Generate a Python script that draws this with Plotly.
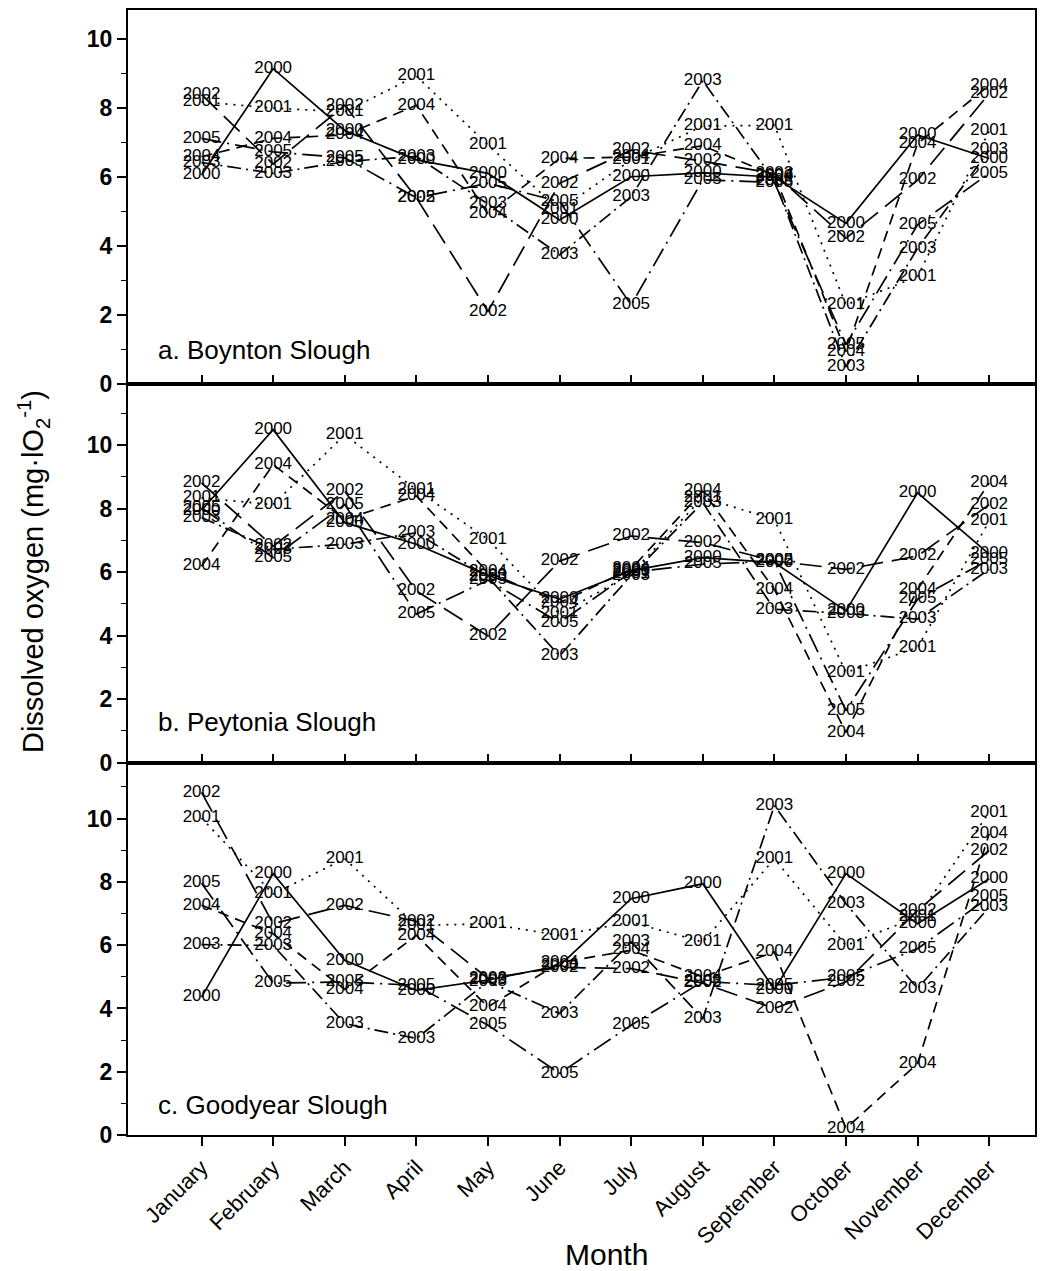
import plotly.graph_objects as go

# Month categories shared by all three panels
MONTHS = ["January", "February", "March", "April", "May", "June",
          "July", "August", "September", "October", "November", "December"]
YEARS = ["2000", "2001", "2002", "2003", "2004", "2005"]

# a. Boynton Slough – monthly dissolved oxygen (mg/l)
boynton_2000 = [6.06, 9.14, 7.35, 6.50, 6.11, 4.76, 6.01, 6.12, 6.00, 4.66, 7.22, 6.54]
boynton_2001 = [8.18, 8.00, 7.89, 8.93, 6.93, 5.05, 6.50, 7.48, 7.50, 2.30, 3.12, 7.33]
boynton_2002 = [8.39, 6.38, 8.08, 5.40, 2.11, 5.82, 6.78, 6.46, 6.10, 4.23, 5.91, 8.42]
boynton_2003 = [6.42, 6.11, 6.45, 6.60, 5.22, 3.75, 5.43, 8.79, 5.90, 0.50, 3.94, 6.78]
boynton_2004 = [6.59, 7.12, 7.22, 8.08, 4.93, 6.54, 6.58, 6.91, 6.05, 0.95, 6.97, 8.66]
boynton_2005 = [7.12, 6.73, 6.56, 5.40, 5.82, 5.29, 2.30, 5.92, 5.85, 1.15, 4.62, 6.11]

# b. Peytonia Slough
peytonia_2000 = [7.95, 10.49, 7.56, 6.88, 5.90, 5.15, 6.05, 6.46, 6.30, 4.78, 8.50, 6.57]
peytonia_2001 = [8.34, 8.13, 10.33, 8.60, 7.03, 4.68, 5.95, 8.35, 7.66, 2.84, 3.63, 7.61]
peytonia_2002 = [8.81, 6.82, 8.55, 5.41, 3.99, 6.35, 7.14, 6.93, 6.35, 6.09, 6.51, 8.13]
peytonia_2003 = [7.72, 6.72, 6.88, 7.24, 5.85, 3.36, 5.90, 8.19, 4.83, 4.70, 4.52, 6.09]
peytonia_2004 = [6.19, 9.39, 7.66, 8.40, 6.00, 5.04, 6.10, 8.55, 5.46, 0.95, 5.46, 8.81]
peytonia_2005 = [8.03, 6.46, 8.13, 4.68, 5.75, 4.41, 6.00, 6.25, 6.35, 1.64, 5.15, 6.40]

# c. Goodyear Slough
goodyear_2000 = [4.36, 8.26, 5.52, 4.57, 4.90, 5.35, 7.47, 7.94, 4.60, 8.26, 6.68, 8.10]
goodyear_2001 = [10.02, 7.62, 8.73, 6.62, 6.68, 6.31, 6.73, 6.10, 8.73, 5.99, 6.90, 10.20]
goodyear_2002 = [10.83, 6.68, 7.26, 6.75, 4.95, 5.30, 5.26, 4.80, 4.00, 4.84, 7.10, 8.99]
goodyear_2003 = [6.02, 5.99, 3.52, 3.05, 4.85, 3.84, 6.10, 3.68, 10.41, 7.31, 4.63, 7.20]
goodyear_2004 = [7.26, 6.36, 4.60, 6.31, 4.05, 5.45, 5.84, 5.00, 5.78, 0.21, 2.26, 9.52]
goodyear_2005 = [7.96, 4.80, 4.84, 4.73, 3.47, 1.95, 3.47, 4.85, 4.73, 4.99, 5.89, 7.52]

SITES = [
    ("a. Boynton Slough", [boynton_2000, boynton_2001, boynton_2002,
                           boynton_2003, boynton_2004, boynton_2005]),
    ("b. Peytonia Slough", [peytonia_2000, peytonia_2001, peytonia_2002,
                            peytonia_2003, peytonia_2004, peytonia_2005]),
    ("c. Goodyear Slough", [goodyear_2000, goodyear_2001, goodyear_2002,
                            goodyear_2003, goodyear_2004, goodyear_2005]),
]

# one line pattern per year
DASHES = {
    "2000": "solid",
    "2001": "2px,6px",
    "2002": "22px,9px",
    "2003": "14px,5px,2px,5px",
    "2004": "11px,7px",
    "2005": "20px,6px,2px,6px",
}

FONT = "Liberation Sans, Arial, Helvetica, sans-serif"
x_idx = list(range(len(MONTHS)))

fig = go.Figure()

# panel placement (paper fractions, bottom panel first in y)
domains = [(0.6673, 1.0), (0.331, 0.6673), (0.0, 0.331)]
y_tops = [10.84, 11.92, 11.77]

for i, (site, series) in enumerate(SITES):
    xa = "x" if i == 0 else f"x{i + 1}"
    ya = "y" if i == 0 else f"y{i + 1}"
    for year, vals in zip(YEARS, series):
        fig.add_trace(go.Scatter(
            x=x_idx, y=vals, xaxis=xa, yaxis=ya,
            mode="lines+text",
            text=[year] * len(vals),
            textposition="middle center",
            textfont=dict(family=FONT, size=17, color="black"),
            line=dict(color="black", width=1.7, dash=DASHES[year]),
            showlegend=False, hoverinfo="skip",
        ))
    fig.add_annotation(
        x=-0.64, y=[1.0, 1.29, 0.95][i], xref=xa, yref=ya,
        text=site, showarrow=False, xanchor="left", yanchor="middle",
        font=dict(family=FONT, size=26, color="black"),
    )

axis_common = dict(showline=True, linecolor="black", linewidth=2, mirror=True,
                   showgrid=False, zeroline=False)

layout = dict(
    width=1053, height=1271,
    margin=dict(l=128, r=18, t=8, b=136),
    plot_bgcolor="white", paper_bgcolor="white",
    font=dict(family=FONT, color="black"),
)

for i in range(3):
    xkey = "xaxis" if i == 0 else f"xaxis{i + 1}"
    ykey = "yaxis" if i == 0 else f"yaxis{i + 1}"
    yname = "y" if i == 0 else f"y{i + 1}"
    xname = "x" if i == 0 else f"x{i + 1}"
    last = i == 2
    layout[xkey] = dict(
        axis_common, anchor=yname, domain=[0, 1], range=[-1.027, 11.64],
        tickmode="array", tickvals=x_idx, ticktext=MONTHS,
        showticklabels=last, ticks="outside" if last else "inside",
        ticklen=9, tickwidth=1.5, tickcolor="black", tickangle=-45,
        tickfont=dict(family=FONT, size=22, color="black"),
    )
    layout[ykey] = dict(
        axis_common, anchor=xname, domain=list(domains[i]),
        range=[0, y_tops[i]], tickmode="array", tickvals=[0, 2, 4, 6, 8, 10],
        ticks="outside", ticklen=9, tickwidth=1.5, tickcolor="black",
        minor=dict(tickmode="array", tickvals=[1, 3, 5, 7, 9, 11],
                   ticks="outside", ticklen=5, tickwidth=1.2, tickcolor="black"),
        tickfont=dict(family=FONT, size=23, color="black", weight="bold"),
    )

fig.update_layout(**layout)

# shared axis titles
fig.add_annotation(
    x=-0.104, y=0.501, xref="paper", yref="paper", textangle=-90,
    text="Dissolved oxygen (mg·lO<sub>2</sub><sup>-1</sup>)", showarrow=False,
    xanchor="center", yanchor="middle",
    font=dict(family=FONT, size=29, color="black"),
)
fig.add_annotation(
    x=0.528, y=-0.1065, xref="paper", yref="paper", text="Month",
    showarrow=False, xanchor="center", yanchor="middle",
    font=dict(family=FONT, size=30, color="black"),
)

fig.write_html("out.html")
